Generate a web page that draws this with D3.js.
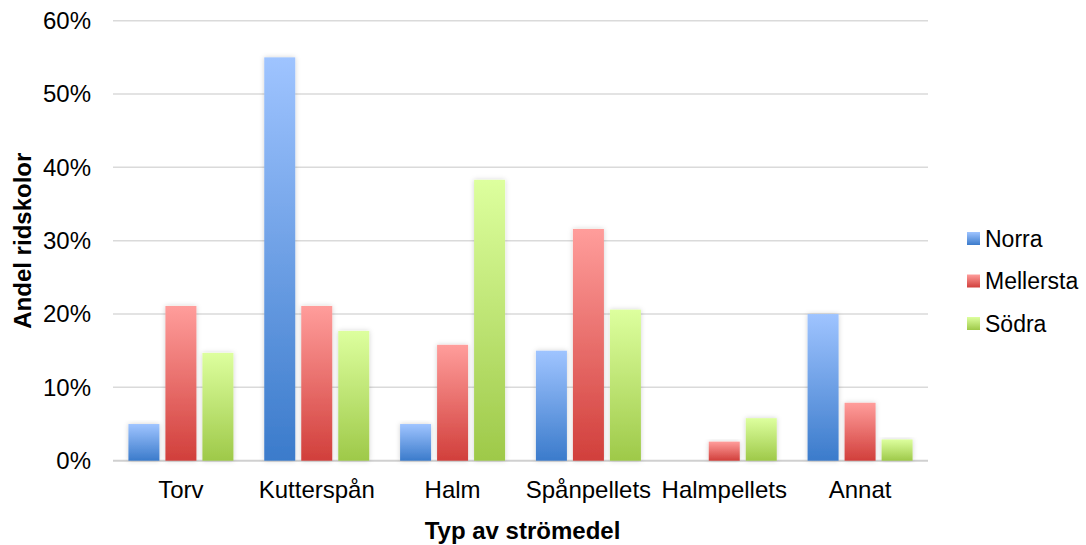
<!DOCTYPE html>
<html>
<head>
<meta charset="utf-8">
<script src="https://cdn.jsdelivr.net/npm/d3@7"></script>
<style>
  body { margin: 0; background: #fff; }
  svg { display: block; font-family: "Liberation Sans", Arial, sans-serif; }
</style>
</head>
<body>
<svg id="chart" width="1086" height="545"></svg>
<script>
// Data
const categories = ['Torv', 'Kutterspån', 'Halm', 'Spånpellets', 'Halmpellets', 'Annat'];
const seriesNames = ['Norra', 'Mellersta', 'Södra'];
const norra = [5.0, 55.0, 5.0, 15.0, 0, 20.0];
const mellersta = [21.1, 21.1, 15.8, 31.6, 2.6, 7.9];
const sodra = [14.7, 17.7, 38.3, 20.6, 5.8, 2.9];
const yTicks = [0, 10, 20, 30, 40, 50, 60];

const seriesValues = [norra, mellersta, sodra];
// top / bottom gradient stops per series
const seriesColors = [
  { top: '#9fc4ff', bottom: '#3b7bcb' },
  { top: '#ff9d9b', bottom: '#d13f3b' },
  { top: '#ddff9e', bottom: '#9ec949' }
];

const fontFamily = '"Liberation Sans", Arial, sans-serif';
const margin = { top: 20.7, right: 158, bottom: 84.3, left: 113 };
const width = 1086, height = 545;
const innerWidth = width - margin.left - margin.right;
const innerHeight = height - margin.top - margin.bottom;

const svg = d3.select('#chart');
const defs = svg.append('defs');

seriesColors.forEach((c, i) => {
  const grad = defs.append('linearGradient')
    .attr('id', `grad-${i}`)
    .attr('x1', 0).attr('y1', 0).attr('x2', 0).attr('y2', 1);
  grad.append('stop').attr('offset', '0%').attr('stop-color', c.top);
  grad.append('stop').attr('offset', '100%').attr('stop-color', c.bottom);
});

const shadow = defs.append('filter')
  .attr('id', 'shadow')
  .attr('x', '-30%').attr('y', '-10%').attr('width', '160%').attr('height', '120%');
shadow.append('feDropShadow')
  .attr('dx', 0).attr('dy', 0).attr('stdDeviation', 2.5)
  .attr('flood-color', '#000').attr('flood-opacity', 0.18);

const g = svg.append('g')
  .attr('transform', `translate(${margin.left},${margin.top})`);

const x = d3.scaleBand()
  .domain(categories)
  .range([0, innerWidth])
  .paddingInner(0)
  .paddingOuter(0);

const barW = 31;
const barGap = 6;
const xInner = d3.scaleBand()
  .domain(seriesNames)
  .range([0, 3 * barW + 2 * barGap])
  .paddingInner(barGap / (barW + barGap));
const groupOffset = (x.bandwidth() - (3 * barW + 2 * barGap)) / 2;

const y = d3.scaleLinear()
  .domain([0, 60])
  .range([innerHeight, 0]);

// Gridlines
g.append('g')
  .attr('class', 'grid')
  .selectAll('line')
  .data(yTicks)
  .join('line')
  .attr('x1', 0)
  .attr('x2', innerWidth)
  .attr('y1', d => y(d))
  .attr('y2', d => y(d))
  .attr('stroke', d => d === 0 ? '#d0d0d0' : '#dadada')
  .attr('stroke-width', d => d === 0 ? 2 : 1.5);

// Y axis labels
const yAxis = d3.axisLeft(y)
  .tickValues(yTicks)
  .tickFormat(d => `${d}%`)
  .tickSize(0)
  .tickPadding(22);

g.append('g')
  .attr('class', 'y-axis')
  .attr('font-size', 24)
  .attr('font-family', fontFamily)
  .call(yAxis)
  .call(s => s.select('.domain').remove())
  .selectAll('text')
  .attr('font-size', 24)
  .attr('fill', '#000');

// X axis labels
const xAxis = d3.axisBottom(x).tickSize(0).tickPadding(20);
g.append('g')
  .attr('class', 'x-axis')
  .attr('transform', `translate(0,${innerHeight})`)
  .attr('font-size', 24)
  .attr('font-family', fontFamily)
  .call(xAxis)
  .call(s => s.select('.domain').remove())
  .selectAll('text')
  .attr('font-size', 24)
  .attr('fill', '#000');

// Bars
const groups = g.append('g')
  .attr('class', 'bars')
  .selectAll('g')
  .data(categories)
  .join('g')
  .attr('transform', d => `translate(${x(d) + groupOffset},0)`);

groups.selectAll('rect')
  .data((d, ci) => seriesNames.map((s, si) => ({ s, si, v: seriesValues[si][ci] })))
  .join('rect')
  .filter(d => d.v > 0)
  .attr('x', d => xInner(d.s))
  .attr('width', xInner.bandwidth())
  .attr('y', d => y(d.v))
  .attr('height', d => y(0) - y(d.v))
  .attr('fill', d => `url(#grad-${d.si})`)
  .attr('filter', 'url(#shadow)');

// Axis titles
svg.append('text')
  .attr('x', margin.left + innerWidth / 2 + 2)
  .attr('y', 539)
  .attr('text-anchor', 'middle')
  .attr('font-size', 24)
  .attr('font-weight', 'bold')
  .text('Typ av strömedel');

svg.append('text')
  .attr('transform', `translate(31,${margin.top + innerHeight / 2}) rotate(-90)`)
  .attr('text-anchor', 'middle')
  .attr('font-size', 24)
  .attr('font-weight', 'bold')
  .text('Andel ridskolor');

// Legend
const legend = svg.append('g')
  .attr('transform', 'translate(967,238.5)');

const legendItems = legend.selectAll('g')
  .data(seriesNames)
  .join('g')
  .attr('transform', (d, i) => `translate(0,${i * 42.5})`);

legendItems.append('rect')
  .attr('x', 0)
  .attr('y', -6.5)
  .attr('width', 13)
  .attr('height', 13)
  .attr('fill', (d, i) => `url(#grad-${i})`);

legendItems.append('text')
  .attr('x', 18)
  .attr('y', 0)
  .attr('dy', '0.35em')
  .attr('font-size', 23)
  .text(d => d);
</script>
</body>
</html>
